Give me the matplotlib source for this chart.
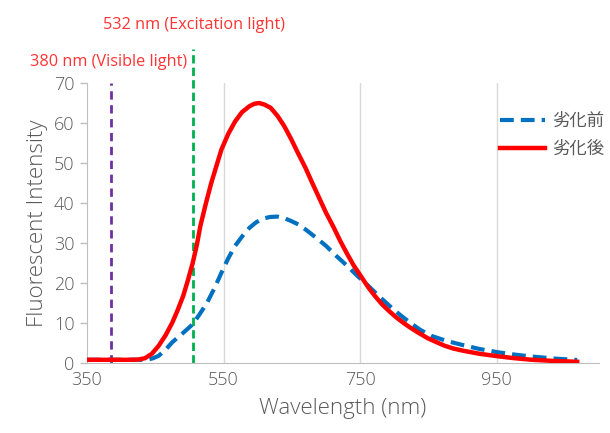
import matplotlib
matplotlib.use("Agg")
import matplotlib.pyplot as plt

# wavelength (nm) / intensity
before_x = [350, 400, 430, 440, 447, 455, 465, 475, 490, 505, 515, 526, 537, 547, 557, 567,
            578, 588, 598, 608, 618, 629, 639, 649, 660, 670, 685, 700, 715, 731, 746, 762,
            777, 793, 808, 823, 838, 854, 877, 900, 925, 951, 976, 1002, 1035, 1068]
before_y = [0.8, 0.8, 0.8, 0.9, 1.2, 1.8, 3.3, 5.2, 7.4, 9.7, 12.2, 15.1, 18.8, 22.6, 26.2, 29.3,
            31.8, 33.8, 35.2, 36.1, 36.5, 36.6, 36.2, 35.5, 34.6, 33.4, 31.4, 29.3, 26.8, 24.3, 21.8, 19.3,
            16.8, 14.3, 12.1, 10.1, 8.3, 6.8, 5.5, 4.5, 3.5, 2.7, 2.1, 1.6, 1.1, 0.75]

after_x = [350, 380, 410, 425, 435, 445, 455, 465, 475, 483, 491, 498, 505, 511, 516, 524,
           532, 540, 547, 557, 567, 577, 588, 595, 602, 610, 619, 629, 639, 649, 659, 670,
           680, 690, 700, 711, 721, 731, 741, 752, 762, 772, 782, 793, 803, 813, 823, 836,
           849, 862, 874, 887, 900, 925, 951, 976, 1002, 1035, 1068]
after_y = [0.8, 0.8, 0.8, 0.85, 1.2, 2.3, 4.3, 6.9, 10.1, 13.3, 16.8, 20.8, 25.1, 29.6, 34.2, 39.8,
           45.0, 49.5, 53.4, 57.3, 60.4, 62.7, 64.2, 64.8, 65.0, 64.6, 63.8, 61.8, 59.2, 56.0, 52.5, 48.8,
           45.0, 41.3, 37.6, 34.0, 30.5, 27.3, 24.3, 21.5, 18.9, 16.7, 14.7, 12.9, 11.4, 10.1, 8.9, 7.5,
           6.2, 5.2, 4.3, 3.6, 3.1, 2.3, 1.7, 1.2, 0.8, 0.5, 0.3]

labels = ['劣化前', '劣化後']
visible_nm = 385      # drawn position of the 380 nm marker
excitation_nm = 505   # drawn position of the 532 nm marker
xticks = [350, 550, 750, 950]
yticks = list(range(0, 80, 10))

plt.rcParams['font.family'] = ['Open Sans', 'Noto Sans CJK JP', 'DejaVu Sans']
gray = '#595959'

fig = plt.figure(figsize=(6.1, 4.33), dpi=100)
ax = fig.add_axes([0.1426, 0.1617, 0.9820 - 0.1426, 0.8083 - 0.1617])

for gx in xticks[1:]:
    ax.axvline(gx, color='#d9d9d9', lw=1, zorder=0)

ax.plot(before_x, before_y, color='#0070c0', lw=3, dashes=(3.3, 1.7), label=labels[0], zorder=3)
ax.plot(after_x, after_y, color='#ff0000', lw=3.2, label=labels[1], zorder=4,
        solid_joinstyle='round')

ax.axvline(visible_nm, ymin=0, ymax=1.0, color='#7030a0', lw=2, dashes=(3, 2), zorder=2)
ax.axvline(excitation_nm, ymin=0, ymax=1.12, color='#00b050', lw=2, dashes=(3, 1.5),
           zorder=2, clip_on=False)

ax.set_xlim(350, 1100)
ax.set_ylim(0, 70)
ax.set_xticks(xticks)
ax.set_yticks(yticks)
ax.tick_params(axis='x', length=0, pad=6, labelsize=13, colors=gray)
ax.tick_params(axis='y', length=5, width=1, pad=4, labelsize=13, colors=gray)
ax.tick_params(axis='y', color='#bfbfbf')
for lab in ax.get_xticklabels() + ax.get_yticklabels():
    lab.set_fontweight('light')
for s in ['top', 'right']:
    ax.spines[s].set_visible(False)
for s in ['left', 'bottom']:
    ax.spines[s].set_color('#bfbfbf')

ax.set_xlabel('Wavelength (nm)', fontsize=16, color=gray, labelpad=6, fontweight='light')
ax.set_ylabel('Fluorescent Intensity', fontsize=16, color=gray, labelpad=4, fontweight='light')

fig.text(103 / 610, 1 - 25 / 433, '532 nm (Excitation light)', color='#ff3333',
         fontsize=11.7, va='center', ha='left')
fig.text(30 / 610, 1 - 62 / 433, '380 nm (Visible light)', color='#ff3333',
         fontsize=11.7, va='center', ha='left')

fig.legend(loc='upper left', bbox_to_anchor=(500 / 610, 1 - 114 / 433), frameon=False,
           borderpad=0, borderaxespad=0, fontsize=12.5, handlelength=2.6, handletextpad=0.4,
           labelspacing=0.65, labelcolor=gray)

fig.savefig('out.png', dpi=100)
